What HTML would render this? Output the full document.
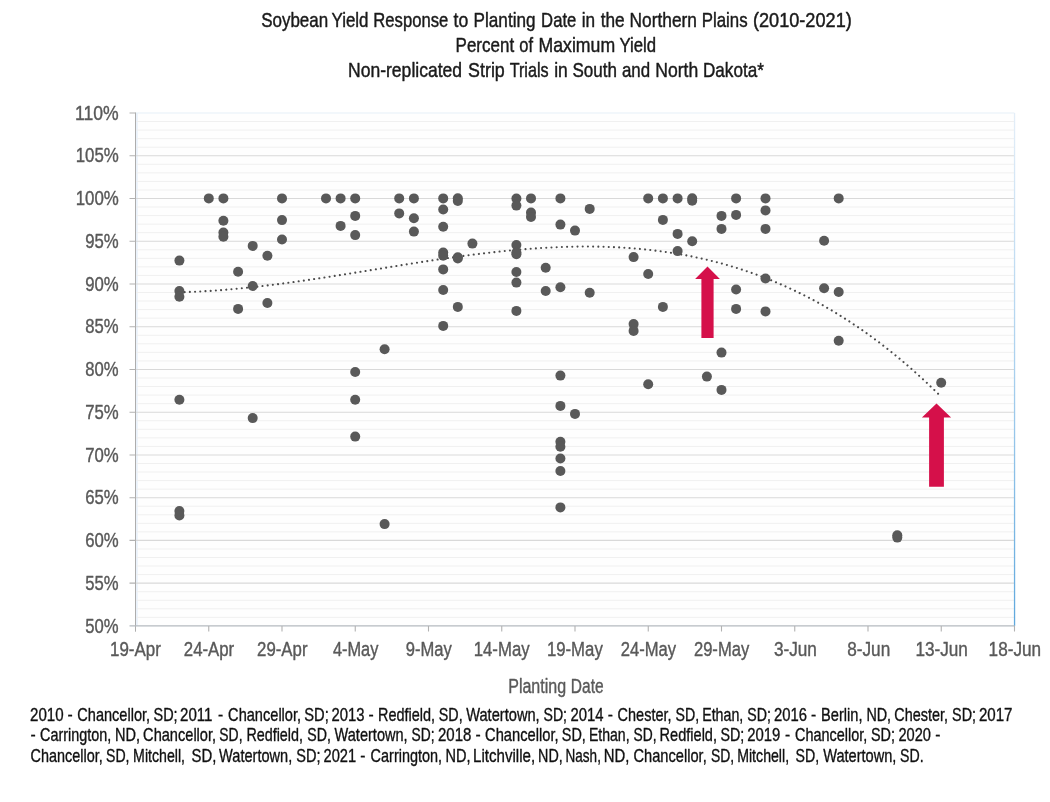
<!DOCTYPE html>
<html lang="en"><head><meta charset="utf-8"><title>Soybean Yield Response to Planting Date</title>
<style>html,body{margin:0;padding:0;background:#fff;}svg{display:block;}text{font-family:"Liberation Sans",Arial,Helvetica,sans-serif;stroke-linejoin:round;}svg{will-change:transform;opacity:0.999;}</style></head><body>
<svg width="1050" height="802" viewBox="0 0 1050 802">
<defs><linearGradient id="rb" x1="0" y1="0" x2="0" y2="1"><stop offset="0" stop-color="#e4eef8"/><stop offset="0.5" stop-color="#a9d0ee"/><stop offset="1" stop-color="#5fa8dd"/></linearGradient></defs>
<rect x="0" y="0" width="1050" height="802" fill="#ffffff"/>
<rect x="135.5" y="113.0" width="879.0" height="512.9" fill="#fefefe"/>
<rect x="136.0" y="113.0" width="1.8" height="512.9" fill="#eaf2fb"/>
<path d="M135.5 617.35H1014.5M135.5 608.80H1014.5M135.5 600.25H1014.5M135.5 591.71H1014.5M135.5 574.61H1014.5M135.5 566.06H1014.5M135.5 557.51H1014.5M135.5 548.96H1014.5M135.5 531.87H1014.5M135.5 523.32H1014.5M135.5 514.77H1014.5M135.5 506.22H1014.5M135.5 489.13H1014.5M135.5 480.58H1014.5M135.5 472.03H1014.5M135.5 463.48H1014.5M135.5 446.38H1014.5M135.5 437.84H1014.5M135.5 429.29H1014.5M135.5 420.74H1014.5M135.5 403.64H1014.5M135.5 395.10H1014.5M135.5 386.55H1014.5M135.5 378.00H1014.5M135.5 360.90H1014.5M135.5 352.35H1014.5M135.5 343.80H1014.5M135.5 335.26H1014.5M135.5 318.16H1014.5M135.5 309.61H1014.5M135.5 301.06H1014.5M135.5 292.51H1014.5M135.5 275.42H1014.5M135.5 266.87H1014.5M135.5 258.32H1014.5M135.5 249.77H1014.5M135.5 232.68H1014.5M135.5 224.13H1014.5M135.5 215.58H1014.5M135.5 207.03H1014.5M135.5 189.94H1014.5M135.5 181.39H1014.5M135.5 172.84H1014.5M135.5 164.29H1014.5M135.5 147.19H1014.5M135.5 138.64H1014.5M135.5 130.10H1014.5M135.5 121.55H1014.5" stroke="#f0f0f0" stroke-width="1" fill="none"/>
<path d="M135.5 583.16H1014.5M135.5 540.42H1014.5M135.5 497.68H1014.5M135.5 454.93H1014.5M135.5 412.19H1014.5M135.5 369.45H1014.5M135.5 326.71H1014.5M135.5 283.97H1014.5M135.5 241.22H1014.5M135.5 198.48H1014.5M135.5 155.74H1014.5" stroke="#d9d9d9" stroke-width="1.1" fill="none"/>
<path d="M135.5 113.0H1014.5" stroke="#e6eff8" stroke-width="1.2" fill="none"/>
<rect x="1013.9" y="113.0" width="1.3" height="512.9" fill="url(#rb)"/>
<path d="M135.5 112.5V631.7" stroke="#adadad" stroke-width="1" fill="none"/>
<path d="M129.5 625.9H1014.5" stroke="#b4babf" stroke-width="1.4" fill="none"/>
<path d="M129.5 583.16H135.5M129.5 540.42H135.5M129.5 497.68H135.5M129.5 454.93H135.5M129.5 412.19H135.5M129.5 369.45H135.5M129.5 326.71H135.5M129.5 283.97H135.5M129.5 241.22H135.5M129.5 198.48H135.5M129.5 155.74H135.5M129.5 113.00H135.5M208.75 625.9V631.4M282.00 625.9V631.4M355.25 625.9V631.4M428.50 625.9V631.4M501.75 625.9V631.4M575.00 625.9V631.4M648.25 625.9V631.4M721.50 625.9V631.4M794.75 625.9V631.4M868.00 625.9V631.4M941.25 625.9V631.4M1014.50 625.9V631.4" stroke="#b2b2b2" stroke-width="1.1" fill="none"/>
<path d="M179.45 292.26 L181.35 292.21 L183.25 292.15 L185.15 292.09 L187.06 292.03 L188.96 291.96 L190.86 291.88 L192.76 291.81 L194.66 291.72 L196.56 291.63 L198.46 291.54 L200.36 291.44 L202.27 291.34 L204.17 291.23 L206.07 291.12 L207.97 291.00 L209.87 290.88 L211.77 290.76 L213.67 290.63 L215.57 290.50 L217.48 290.36 L219.38 290.22 L221.28 290.07 L223.18 289.92 L225.08 289.77 L226.98 289.61 L228.88 289.45 L230.78 289.28 L232.69 289.12 L234.59 288.94 L236.49 288.77 L238.39 288.59 L240.29 288.40 L242.19 288.22 L244.09 288.03 L245.99 287.83 L247.90 287.64 L249.80 287.44 L251.70 287.23 L253.60 287.03 L255.50 286.82 L257.40 286.60 L259.30 286.39 L261.20 286.17 L263.11 285.94 L265.01 285.72 L266.91 285.49 L268.81 285.26 L270.71 285.03 L272.61 284.79 L274.51 284.55 L276.41 284.31 L278.32 284.07 L280.22 283.82 L282.12 283.57 L284.02 283.32 L285.92 283.07 L287.82 282.81 L289.72 282.55 L291.62 282.29 L293.53 282.03 L295.43 281.76 L297.33 281.50 L299.23 281.23 L301.13 280.96 L303.03 280.68 L304.93 280.41 L306.83 280.13 L308.74 279.85 L310.64 279.57 L312.54 279.29 L314.44 279.01 L316.34 278.72 L318.24 278.44 L320.14 278.15 L322.04 277.86 L323.95 277.57 L325.85 277.28 L327.75 276.98 L329.65 276.69 L331.55 276.39 L333.45 276.10 L335.35 275.80 L337.25 275.50 L339.16 275.20 L341.06 274.90 L342.96 274.60 L344.86 274.30 L346.76 273.99 L348.66 273.69 L350.56 273.38 L352.46 273.08 L354.37 272.77 L356.27 272.47 L358.17 272.16 L360.07 271.85 L361.97 271.54 L363.87 271.24 L365.77 270.93 L367.67 270.62 L369.58 270.31 L371.48 270.00 L373.38 269.69 L375.28 269.38 L377.18 269.08 L379.08 268.77 L380.98 268.46 L382.88 268.15 L384.79 267.84 L386.69 267.53 L388.59 267.22 L390.49 266.92 L392.39 266.61 L394.29 266.30 L396.19 266.00 L398.09 265.69 L400.00 265.39 L401.90 265.08 L403.80 264.78 L405.70 264.48 L407.60 264.18 L409.50 263.88 L411.40 263.58 L413.30 263.28 L415.21 262.98 L417.11 262.68 L419.01 262.39 L420.91 262.09 L422.81 261.80 L424.71 261.50 L426.61 261.21 L428.51 260.92 L430.42 260.64 L432.32 260.35 L434.22 260.06 L436.12 259.78 L438.02 259.50 L439.92 259.22 L441.82 258.94 L443.72 258.66 L445.63 258.39 L447.53 258.11 L449.43 257.84 L451.33 257.57 L453.23 257.31 L455.13 257.04 L457.03 256.78 L458.93 256.52 L460.84 256.26 L462.74 256.00 L464.64 255.75 L466.54 255.50 L468.44 255.25 L470.34 255.00 L472.24 254.75 L474.14 254.51 L476.05 254.27 L477.95 254.04 L479.85 253.80 L481.75 253.57 L483.65 253.34 L485.55 253.12 L487.45 252.89 L489.35 252.68 L491.26 252.46 L493.16 252.24 L495.06 252.03 L496.96 251.83 L498.86 251.62 L500.76 251.42 L502.66 251.22 L504.56 251.03 L506.47 250.84 L508.37 250.65 L510.27 250.47 L512.17 250.29 L514.07 250.11 L515.97 249.94 L517.87 249.77 L519.77 249.60 L521.68 249.44 L523.58 249.28 L525.48 249.13 L527.38 248.98 L529.28 248.83 L531.18 248.69 L533.08 248.55 L534.98 248.42 L536.89 248.29 L538.79 248.16 L540.69 248.04 L542.59 247.92 L544.49 247.81 L546.39 247.70 L548.29 247.60 L550.19 247.50 L552.10 247.41 L554.00 247.32 L555.90 247.23 L557.80 247.15 L559.70 247.08 L561.60 247.01 L563.50 246.94 L565.40 246.88 L567.31 246.82 L569.21 246.77 L571.11 246.73 L573.01 246.69 L574.91 246.65 L576.81 246.62 L578.71 246.60 L580.61 246.58 L582.52 246.56 L584.42 246.55 L586.32 246.55 L588.22 246.55 L590.12 246.56 L592.02 246.57 L593.92 246.59 L595.82 246.62 L597.73 246.65 L599.63 246.69 L601.53 246.73 L603.43 246.78 L605.33 246.83 L607.23 246.89 L609.13 246.96 L611.03 247.03 L612.94 247.11 L614.84 247.19 L616.74 247.29 L618.64 247.38 L620.54 247.49 L622.44 247.60 L624.34 247.72 L626.24 247.84 L628.15 247.97 L630.05 248.11 L631.95 248.25 L633.85 248.40 L635.75 248.56 L637.65 248.72 L639.55 248.89 L641.45 249.07 L643.36 249.25 L645.26 249.44 L647.16 249.64 L649.06 249.85 L650.96 250.06 L652.86 250.28 L654.76 250.51 L656.66 250.74 L658.57 250.99 L660.47 251.24 L662.37 251.49 L664.27 251.76 L666.17 252.03 L668.07 252.31 L669.97 252.60 L671.87 252.89 L673.78 253.20 L675.68 253.51 L677.58 253.82 L679.48 254.15 L681.38 254.49 L683.28 254.83 L685.18 255.18 L687.08 255.54 L688.99 255.91 L690.89 256.28 L692.79 256.66 L694.69 257.06 L696.59 257.46 L698.49 257.86 L700.39 258.28 L702.29 258.71 L704.20 259.14 L706.10 259.58 L708.00 260.04 L709.90 260.50 L711.80 260.96 L713.70 261.44 L715.60 261.93 L717.50 262.42 L719.41 262.93 L721.31 263.44 L723.21 263.96 L725.11 264.50 L727.01 265.04 L728.91 265.59 L730.81 266.15 L732.71 266.72 L734.62 267.29 L736.52 267.88 L738.42 268.48 L740.32 269.08 L742.22 269.70 L744.12 270.33 L746.02 270.96 L747.92 271.61 L749.83 272.26 L751.73 272.92 L753.63 273.60 L755.53 274.28 L757.43 274.98 L759.33 275.68 L761.23 276.40 L763.13 277.12 L765.04 277.86 L766.94 278.60 L768.84 279.36 L770.74 280.12 L772.64 280.90 L774.54 281.68 L776.44 282.48 L778.34 283.29 L780.25 284.10 L782.15 284.93 L784.05 285.77 L785.95 286.62 L787.85 287.48 L789.75 288.35 L791.65 289.23 L793.55 290.13 L795.46 291.03 L797.36 291.95 L799.26 292.87 L801.16 293.81 L803.06 294.76 L804.96 295.72 L806.86 296.69 L808.76 297.67 L810.67 298.66 L812.57 299.67 L814.47 300.68 L816.37 301.71 L818.27 302.75 L820.17 303.80 L822.07 304.86 L823.97 305.94 L825.88 307.03 L827.78 308.12 L829.68 309.23 L831.58 310.35 L833.48 311.49 L835.38 312.63 L837.28 313.79 L839.18 314.96 L841.09 316.14 L842.99 317.34 L844.89 318.54 L846.79 319.76 L848.69 320.99 L850.59 322.23 L852.49 323.49 L854.39 324.76 L856.30 326.04 L858.20 327.33 L860.10 328.64 L862.00 329.96 L863.90 331.29 L865.80 332.63 L867.70 333.99 L869.60 335.36 L871.51 336.74 L873.41 338.14 L875.31 339.55 L877.21 340.97 L879.11 342.41 L881.01 343.85 L882.91 345.32 L884.81 346.79 L886.72 348.28 L888.62 349.78 L890.52 351.29 L892.42 352.82 L894.32 354.37 L896.22 355.92 L898.12 357.49 L900.02 359.07 L901.93 360.67 L903.83 362.28 L905.73 363.91 L907.63 365.54 L909.53 367.20 L911.43 368.86 L913.33 370.54 L915.23 372.24 L917.14 373.95 L919.04 375.67 L920.94 377.40 L922.84 379.16 L924.74 380.92 L926.64 382.70 L928.54 384.50 L930.44 386.30 L932.35 388.13 L934.25 389.97 L936.15 391.82 L938.05 393.69" stroke="#4a4a4a" stroke-width="2.1" stroke-linecap="round" stroke-dasharray="0.01 5.1980" fill="none"/>
<g fill="#595959">
<circle cx="179.4" cy="260.6" r="5"/>
<circle cx="179.4" cy="291.0" r="5"/>
<circle cx="179.4" cy="296.7" r="5"/>
<circle cx="179.4" cy="399.7" r="5"/>
<circle cx="179.4" cy="511.1" r="5"/>
<circle cx="179.4" cy="515.4" r="5"/>
<circle cx="208.8" cy="198.4" r="5"/>
<circle cx="223.4" cy="198.4" r="5"/>
<circle cx="223.4" cy="220.8" r="5"/>
<circle cx="223.4" cy="232.6" r="5"/>
<circle cx="223.4" cy="236.7" r="5"/>
<circle cx="238.1" cy="271.8" r="5"/>
<circle cx="238.1" cy="308.9" r="5"/>
<circle cx="252.7" cy="245.9" r="5"/>
<circle cx="252.7" cy="286.0" r="5"/>
<circle cx="252.7" cy="418.1" r="5"/>
<circle cx="267.4" cy="255.7" r="5"/>
<circle cx="267.4" cy="303.0" r="5"/>
<circle cx="282.0" cy="198.4" r="5"/>
<circle cx="282.0" cy="220.1" r="5"/>
<circle cx="282.0" cy="239.5" r="5"/>
<circle cx="326.0" cy="198.4" r="5"/>
<circle cx="340.6" cy="198.4" r="5"/>
<circle cx="340.6" cy="225.9" r="5"/>
<circle cx="355.2" cy="198.4" r="5"/>
<circle cx="355.2" cy="215.9" r="5"/>
<circle cx="355.2" cy="235.1" r="5"/>
<circle cx="355.2" cy="372.0" r="5"/>
<circle cx="355.2" cy="399.7" r="5"/>
<circle cx="355.2" cy="436.6" r="5"/>
<circle cx="384.6" cy="349.3" r="5"/>
<circle cx="384.6" cy="524.1" r="5"/>
<circle cx="399.2" cy="198.4" r="5"/>
<circle cx="399.2" cy="213.4" r="5"/>
<circle cx="413.9" cy="198.4" r="5"/>
<circle cx="413.9" cy="218.2" r="5"/>
<circle cx="413.9" cy="231.6" r="5"/>
<circle cx="443.2" cy="198.4" r="5"/>
<circle cx="443.2" cy="209.5" r="5"/>
<circle cx="443.2" cy="226.8" r="5"/>
<circle cx="443.2" cy="252.5" r="5"/>
<circle cx="443.2" cy="255.7" r="5"/>
<circle cx="443.2" cy="269.4" r="5"/>
<circle cx="443.2" cy="290.0" r="5"/>
<circle cx="443.2" cy="325.9" r="5"/>
<circle cx="457.8" cy="198.2" r="5"/>
<circle cx="457.8" cy="200.9" r="5"/>
<circle cx="457.8" cy="257.2" r="5"/>
<circle cx="457.8" cy="258.5" r="5"/>
<circle cx="457.8" cy="306.9" r="5"/>
<circle cx="472.4" cy="243.6" r="5"/>
<circle cx="516.4" cy="198.6" r="5"/>
<circle cx="516.4" cy="205.6" r="5"/>
<circle cx="516.4" cy="245.0" r="5"/>
<circle cx="516.4" cy="252.5" r="5"/>
<circle cx="516.4" cy="254.2" r="5"/>
<circle cx="516.4" cy="272.0" r="5"/>
<circle cx="516.4" cy="282.6" r="5"/>
<circle cx="516.4" cy="310.9" r="5"/>
<circle cx="531.0" cy="198.4" r="5"/>
<circle cx="531.0" cy="212.5" r="5"/>
<circle cx="531.0" cy="216.9" r="5"/>
<circle cx="545.7" cy="267.8" r="5"/>
<circle cx="545.7" cy="291.0" r="5"/>
<circle cx="560.4" cy="198.4" r="5"/>
<circle cx="560.4" cy="224.6" r="5"/>
<circle cx="560.4" cy="287.2" r="5"/>
<circle cx="560.4" cy="375.6" r="5"/>
<circle cx="560.4" cy="405.9" r="5"/>
<circle cx="560.4" cy="441.8" r="5"/>
<circle cx="560.4" cy="446.8" r="5"/>
<circle cx="560.4" cy="458.5" r="5"/>
<circle cx="560.4" cy="471.0" r="5"/>
<circle cx="560.4" cy="507.4" r="5"/>
<circle cx="575.0" cy="230.6" r="5"/>
<circle cx="575.0" cy="413.9" r="5"/>
<circle cx="589.7" cy="208.9" r="5"/>
<circle cx="589.7" cy="292.7" r="5"/>
<circle cx="633.6" cy="257.1" r="5"/>
<circle cx="633.6" cy="324.1" r="5"/>
<circle cx="633.6" cy="330.9" r="5"/>
<circle cx="648.2" cy="198.4" r="5"/>
<circle cx="648.2" cy="274.0" r="5"/>
<circle cx="648.2" cy="384.2" r="5"/>
<circle cx="662.9" cy="198.4" r="5"/>
<circle cx="662.9" cy="219.9" r="5"/>
<circle cx="662.9" cy="306.9" r="5"/>
<circle cx="677.6" cy="198.4" r="5"/>
<circle cx="677.6" cy="233.9" r="5"/>
<circle cx="677.6" cy="251.1" r="5"/>
<circle cx="692.2" cy="198.2" r="5"/>
<circle cx="692.2" cy="200.8" r="5"/>
<circle cx="692.2" cy="241.3" r="5"/>
<circle cx="706.9" cy="376.6" r="5"/>
<circle cx="721.5" cy="215.9" r="5"/>
<circle cx="721.5" cy="228.9" r="5"/>
<circle cx="721.5" cy="352.6" r="5"/>
<circle cx="721.5" cy="389.9" r="5"/>
<circle cx="736.1" cy="198.4" r="5"/>
<circle cx="736.1" cy="214.9" r="5"/>
<circle cx="736.1" cy="289.5" r="5"/>
<circle cx="736.1" cy="308.9" r="5"/>
<circle cx="765.5" cy="198.4" r="5"/>
<circle cx="765.5" cy="210.4" r="5"/>
<circle cx="765.5" cy="228.9" r="5"/>
<circle cx="765.5" cy="278.5" r="5"/>
<circle cx="765.5" cy="311.4" r="5"/>
<circle cx="824.1" cy="240.8" r="5"/>
<circle cx="824.1" cy="288.2" r="5"/>
<circle cx="838.7" cy="198.4" r="5"/>
<circle cx="838.7" cy="292.0" r="5"/>
<circle cx="838.7" cy="340.8" r="5"/>
<circle cx="897.3" cy="535.2" r="5"/>
<circle cx="897.3" cy="537.6" r="5"/>
<circle cx="941.2" cy="382.8" r="5"/>
</g>
<path d="M707.5 266.5L719.9 279.0L713.6 279.0L713.6 338.1L701.4 338.1L701.4 279.0L695.1 279.0Z" fill="#d5104a"/>
<path d="M936.5 403.5L951.1 417.6L943.9 417.6L943.9 486.8L929.1 486.8L929.1 417.6L921.9 417.6Z" fill="#d5104a"/>
<g>
<text x="261.2" y="26.5" font-size="20.7" fill="#1a1a1a" stroke="#1a1a1a" stroke-width="0.45" textLength="67.0" lengthAdjust="spacingAndGlyphs">Soybean</text>
<text x="331.5" y="26.5" font-size="20.7" fill="#1a1a1a" stroke="#1a1a1a" stroke-width="0.45" textLength="37.0" lengthAdjust="spacingAndGlyphs">Yield</text>
<text x="373.3" y="26.5" font-size="20.7" fill="#1a1a1a" stroke="#1a1a1a" stroke-width="0.45" textLength="74.9" lengthAdjust="spacingAndGlyphs">Response</text>
<text x="453.6" y="26.5" font-size="20.7" fill="#1a1a1a" stroke="#1a1a1a" stroke-width="0.45" textLength="14.7" lengthAdjust="spacingAndGlyphs">to</text>
<text x="473.6" y="26.5" font-size="20.7" fill="#1a1a1a" stroke="#1a1a1a" stroke-width="0.45" textLength="61.9" lengthAdjust="spacingAndGlyphs">Planting</text>
<text x="541.1" y="26.5" font-size="20.7" fill="#1a1a1a" stroke="#1a1a1a" stroke-width="0.45" textLength="35.2" lengthAdjust="spacingAndGlyphs">Date</text>
<text x="581.8" y="26.5" font-size="20.7" fill="#1a1a1a" stroke="#1a1a1a" stroke-width="0.45" textLength="13.4" lengthAdjust="spacingAndGlyphs">in</text>
<text x="600.7" y="26.5" font-size="20.7" fill="#1a1a1a" stroke="#1a1a1a" stroke-width="0.45" textLength="24.0" lengthAdjust="spacingAndGlyphs">the</text>
<text x="629.6" y="26.5" font-size="20.7" fill="#1a1a1a" stroke="#1a1a1a" stroke-width="0.45" textLength="67.4" lengthAdjust="spacingAndGlyphs">Northern</text>
<text x="701.7" y="26.5" font-size="20.7" fill="#1a1a1a" stroke="#1a1a1a" stroke-width="0.45" textLength="45.9" lengthAdjust="spacingAndGlyphs">Plains</text>
<text x="752.9" y="26.5" font-size="20.7" fill="#1a1a1a" stroke="#1a1a1a" stroke-width="0.45" textLength="98.9" lengthAdjust="spacingAndGlyphs">(2010-2021)</text>
</g>
<g>
<text x="455.6" y="51.7" font-size="20.7" fill="#1a1a1a" stroke="#1a1a1a" stroke-width="0.45" textLength="58.5" lengthAdjust="spacingAndGlyphs">Percent</text>
<text x="519.3" y="51.7" font-size="20.7" fill="#1a1a1a" stroke="#1a1a1a" stroke-width="0.45" textLength="13.7" lengthAdjust="spacingAndGlyphs">of</text>
<text x="538.6" y="51.7" font-size="20.7" fill="#1a1a1a" stroke="#1a1a1a" stroke-width="0.45" textLength="76.5" lengthAdjust="spacingAndGlyphs">Maximum</text>
<text x="619.5" y="51.7" font-size="20.7" fill="#1a1a1a" stroke="#1a1a1a" stroke-width="0.45" textLength="36.6" lengthAdjust="spacingAndGlyphs">Yield</text>
</g>
<g>
<text x="348.0" y="76.8" font-size="20.7" fill="#1a1a1a" stroke="#1a1a1a" stroke-width="0.45" textLength="114.1" lengthAdjust="spacingAndGlyphs">Non-replicated</text>
<text x="468.1" y="76.8" font-size="20.7" fill="#1a1a1a" stroke="#1a1a1a" stroke-width="0.45" textLength="36.7" lengthAdjust="spacingAndGlyphs">Strip</text>
<text x="509.7" y="76.8" font-size="20.7" fill="#1a1a1a" stroke="#1a1a1a" stroke-width="0.45" textLength="38.9" lengthAdjust="spacingAndGlyphs">Trials</text>
<text x="554.2" y="76.8" font-size="20.7" fill="#1a1a1a" stroke="#1a1a1a" stroke-width="0.45" textLength="13.6" lengthAdjust="spacingAndGlyphs">in</text>
<text x="572.5" y="76.8" font-size="20.7" fill="#1a1a1a" stroke="#1a1a1a" stroke-width="0.45" textLength="44.5" lengthAdjust="spacingAndGlyphs">South</text>
<text x="621.9" y="76.8" font-size="20.7" fill="#1a1a1a" stroke="#1a1a1a" stroke-width="0.45" textLength="28.2" lengthAdjust="spacingAndGlyphs">and</text>
<text x="655.2" y="76.8" font-size="20.7" fill="#1a1a1a" stroke="#1a1a1a" stroke-width="0.45" textLength="43.0" lengthAdjust="spacingAndGlyphs">North</text>
<text x="703.0" y="76.8" font-size="20.7" fill="#1a1a1a" stroke="#1a1a1a" stroke-width="0.45" textLength="60.8" lengthAdjust="spacingAndGlyphs">Dakota*</text>
</g>
<g>
<text x="85.3" y="632.5" font-size="20.0" fill="#595959" stroke="#595959" stroke-width="0.40" textLength="33.3" lengthAdjust="spacingAndGlyphs">50%</text>
<text x="85.3" y="589.8" font-size="20.0" fill="#595959" stroke="#595959" stroke-width="0.40" textLength="33.3" lengthAdjust="spacingAndGlyphs">55%</text>
<text x="85.2" y="547.0" font-size="20.0" fill="#595959" stroke="#595959" stroke-width="0.40" textLength="33.5" lengthAdjust="spacingAndGlyphs">60%</text>
<text x="85.2" y="504.3" font-size="20.0" fill="#595959" stroke="#595959" stroke-width="0.40" textLength="33.5" lengthAdjust="spacingAndGlyphs">65%</text>
<text x="85.2" y="461.5" font-size="20.0" fill="#595959" stroke="#595959" stroke-width="0.40" textLength="33.5" lengthAdjust="spacingAndGlyphs">70%</text>
<text x="85.2" y="418.8" font-size="20.0" fill="#595959" stroke="#595959" stroke-width="0.40" textLength="33.5" lengthAdjust="spacingAndGlyphs">75%</text>
<text x="85.3" y="376.1" font-size="20.0" fill="#595959" stroke="#595959" stroke-width="0.40" textLength="33.3" lengthAdjust="spacingAndGlyphs">80%</text>
<text x="85.3" y="333.3" font-size="20.0" fill="#595959" stroke="#595959" stroke-width="0.40" textLength="33.3" lengthAdjust="spacingAndGlyphs">85%</text>
<text x="85.2" y="290.6" font-size="20.0" fill="#595959" stroke="#595959" stroke-width="0.40" textLength="33.5" lengthAdjust="spacingAndGlyphs">90%</text>
<text x="85.2" y="247.8" font-size="20.0" fill="#595959" stroke="#595959" stroke-width="0.40" textLength="33.5" lengthAdjust="spacingAndGlyphs">95%</text>
<text x="75.7" y="205.1" font-size="20.0" fill="#595959" stroke="#595959" stroke-width="0.40" textLength="43.1" lengthAdjust="spacingAndGlyphs">100%</text>
<text x="75.7" y="162.3" font-size="20.0" fill="#595959" stroke="#595959" stroke-width="0.40" textLength="43.1" lengthAdjust="spacingAndGlyphs">105%</text>
<text x="75.1" y="119.6" font-size="20.0" fill="#595959" stroke="#595959" stroke-width="0.40" textLength="43.6" lengthAdjust="spacingAndGlyphs">110%</text>
</g>
<g>
<text x="110.0" y="656.0" font-size="20.0" fill="#595959" stroke="#595959" stroke-width="0.40" textLength="50.9" lengthAdjust="spacingAndGlyphs">19-Apr</text>
<text x="183.8" y="656.0" font-size="20.0" fill="#595959" stroke="#595959" stroke-width="0.40" textLength="50.4" lengthAdjust="spacingAndGlyphs">24-Apr</text>
<text x="257.1" y="656.0" font-size="20.0" fill="#595959" stroke="#595959" stroke-width="0.40" textLength="50.4" lengthAdjust="spacingAndGlyphs">29-Apr</text>
<text x="332.9" y="656.0" font-size="20.0" fill="#595959" stroke="#595959" stroke-width="0.40" textLength="45.5" lengthAdjust="spacingAndGlyphs">4-May</text>
<text x="405.7" y="656.0" font-size="20.0" fill="#595959" stroke="#595959" stroke-width="0.40" textLength="46.0" lengthAdjust="spacingAndGlyphs">9-May</text>
<text x="473.7" y="656.0" font-size="20.0" fill="#595959" stroke="#595959" stroke-width="0.40" textLength="55.9" lengthAdjust="spacingAndGlyphs">14-May</text>
<text x="546.9" y="656.0" font-size="20.0" fill="#595959" stroke="#595959" stroke-width="0.40" textLength="55.9" lengthAdjust="spacingAndGlyphs">19-May</text>
<text x="620.7" y="656.0" font-size="20.0" fill="#595959" stroke="#595959" stroke-width="0.40" textLength="55.4" lengthAdjust="spacingAndGlyphs">24-May</text>
<text x="693.9" y="656.0" font-size="20.0" fill="#595959" stroke="#595959" stroke-width="0.40" textLength="55.4" lengthAdjust="spacingAndGlyphs">29-May</text>
<text x="773.9" y="656.0" font-size="20.0" fill="#595959" stroke="#595959" stroke-width="0.40" textLength="43.0" lengthAdjust="spacingAndGlyphs">3-Jun</text>
<text x="847.2" y="656.0" font-size="20.0" fill="#595959" stroke="#595959" stroke-width="0.40" textLength="43.0" lengthAdjust="spacingAndGlyphs">8-Jun</text>
<text x="915.4" y="656.0" font-size="20.0" fill="#595959" stroke="#595959" stroke-width="0.40" textLength="52.5" lengthAdjust="spacingAndGlyphs">13-Jun</text>
<text x="988.6" y="656.0" font-size="20.0" fill="#595959" stroke="#595959" stroke-width="0.40" textLength="52.5" lengthAdjust="spacingAndGlyphs">18-Jun</text>
</g>
<g>
<text x="508.2" y="693.0" font-size="20.0" fill="#595959" stroke="#595959" stroke-width="0.40" textLength="57.9" lengthAdjust="spacingAndGlyphs">Planting</text>
<text x="570.8" y="693.0" font-size="20.0" fill="#595959" stroke="#595959" stroke-width="0.40" textLength="32.8" lengthAdjust="spacingAndGlyphs">Date</text>
</g>
<g>
<text x="30.0" y="720.8" font-size="17.9" fill="#111111" stroke="#111111" stroke-width="0.35" textLength="33.6" lengthAdjust="spacingAndGlyphs">2010</text>
<text x="67.4" y="720.8" font-size="17.9" fill="#111111" stroke="#111111" stroke-width="0.35" textLength="5.2" lengthAdjust="spacingAndGlyphs">-</text>
<text x="77.3" y="720.8" font-size="17.9" fill="#111111" stroke="#111111" stroke-width="0.35" textLength="72.8" lengthAdjust="spacingAndGlyphs">Chancellor,</text>
<text x="153.5" y="720.8" font-size="17.9" fill="#111111" stroke="#111111" stroke-width="0.35" textLength="24.1" lengthAdjust="spacingAndGlyphs">SD;</text>
<text x="180.0" y="720.8" font-size="17.9" fill="#111111" stroke="#111111" stroke-width="0.35" textLength="32.4" lengthAdjust="spacingAndGlyphs">2011</text>
<text x="218.1" y="720.8" font-size="17.9" fill="#111111" stroke="#111111" stroke-width="0.35" textLength="5.2" lengthAdjust="spacingAndGlyphs">-</text>
<text x="228.1" y="720.8" font-size="17.9" fill="#111111" stroke="#111111" stroke-width="0.35" textLength="73.0" lengthAdjust="spacingAndGlyphs">Chancellor,</text>
<text x="304.3" y="720.8" font-size="17.9" fill="#111111" stroke="#111111" stroke-width="0.35" textLength="24.5" lengthAdjust="spacingAndGlyphs">SD;</text>
<text x="331.5" y="720.8" font-size="17.9" fill="#111111" stroke="#111111" stroke-width="0.35" textLength="33.0" lengthAdjust="spacingAndGlyphs">2013</text>
<text x="368.6" y="720.8" font-size="17.9" fill="#111111" stroke="#111111" stroke-width="0.35" textLength="5.2" lengthAdjust="spacingAndGlyphs">-</text>
<text x="378.0" y="720.8" font-size="17.9" fill="#111111" stroke="#111111" stroke-width="0.35" textLength="57.0" lengthAdjust="spacingAndGlyphs">Redfield,</text>
<text x="438.8" y="720.8" font-size="17.9" fill="#111111" stroke="#111111" stroke-width="0.35" textLength="23.8" lengthAdjust="spacingAndGlyphs">SD,</text>
<text x="466.2" y="720.8" font-size="17.9" fill="#111111" stroke="#111111" stroke-width="0.35" textLength="73.5" lengthAdjust="spacingAndGlyphs">Watertown,</text>
<text x="543.5" y="720.8" font-size="17.9" fill="#111111" stroke="#111111" stroke-width="0.35" textLength="23.5" lengthAdjust="spacingAndGlyphs">SD;</text>
<text x="570.6" y="720.8" font-size="17.9" fill="#111111" stroke="#111111" stroke-width="0.35" textLength="33.0" lengthAdjust="spacingAndGlyphs">2014</text>
<text x="607.7" y="720.8" font-size="17.9" fill="#111111" stroke="#111111" stroke-width="0.35" textLength="5.2" lengthAdjust="spacingAndGlyphs">-</text>
<text x="617.6" y="720.8" font-size="17.9" fill="#111111" stroke="#111111" stroke-width="0.35" textLength="53.9" lengthAdjust="spacingAndGlyphs">Chester,</text>
<text x="675.6" y="720.8" font-size="17.9" fill="#111111" stroke="#111111" stroke-width="0.35" textLength="23.6" lengthAdjust="spacingAndGlyphs">SD,</text>
<text x="702.2" y="720.8" font-size="17.9" fill="#111111" stroke="#111111" stroke-width="0.35" textLength="41.1" lengthAdjust="spacingAndGlyphs">Ethan,</text>
<text x="747.3" y="720.8" font-size="17.9" fill="#111111" stroke="#111111" stroke-width="0.35" textLength="23.6" lengthAdjust="spacingAndGlyphs">SD;</text>
<text x="774.0" y="720.8" font-size="17.9" fill="#111111" stroke="#111111" stroke-width="0.35" textLength="33.0" lengthAdjust="spacingAndGlyphs">2016</text>
<text x="811.1" y="720.8" font-size="17.9" fill="#111111" stroke="#111111" stroke-width="0.35" textLength="5.2" lengthAdjust="spacingAndGlyphs">-</text>
<text x="821.0" y="720.8" font-size="17.9" fill="#111111" stroke="#111111" stroke-width="0.35" textLength="41.5" lengthAdjust="spacingAndGlyphs">Berlin,</text>
<text x="866.4" y="720.8" font-size="17.9" fill="#111111" stroke="#111111" stroke-width="0.35" textLength="24.7" lengthAdjust="spacingAndGlyphs">ND,</text>
<text x="894.3" y="720.8" font-size="17.9" fill="#111111" stroke="#111111" stroke-width="0.35" textLength="53.6" lengthAdjust="spacingAndGlyphs">Chester,</text>
<text x="952.1" y="720.8" font-size="17.9" fill="#111111" stroke="#111111" stroke-width="0.35" textLength="23.9" lengthAdjust="spacingAndGlyphs">SD;</text>
<text x="978.9" y="720.8" font-size="17.9" fill="#111111" stroke="#111111" stroke-width="0.35" textLength="33.6" lengthAdjust="spacingAndGlyphs">2017</text>
</g>
<g>
<text x="30.6" y="741.4" font-size="17.9" fill="#111111" stroke="#111111" stroke-width="0.35" textLength="5.2" lengthAdjust="spacingAndGlyphs">-</text>
<text x="40.1" y="741.4" font-size="17.9" fill="#111111" stroke="#111111" stroke-width="0.35" textLength="71.2" lengthAdjust="spacingAndGlyphs">Carrington,</text>
<text x="115.1" y="741.4" font-size="17.9" fill="#111111" stroke="#111111" stroke-width="0.35" textLength="25.0" lengthAdjust="spacingAndGlyphs">ND,</text>
<text x="143.1" y="741.4" font-size="17.9" fill="#111111" stroke="#111111" stroke-width="0.35" textLength="73.0" lengthAdjust="spacingAndGlyphs">Chancellor,</text>
<text x="219.3" y="741.4" font-size="17.9" fill="#111111" stroke="#111111" stroke-width="0.35" textLength="23.2" lengthAdjust="spacingAndGlyphs">SD,</text>
<text x="246.4" y="741.4" font-size="17.9" fill="#111111" stroke="#111111" stroke-width="0.35" textLength="56.6" lengthAdjust="spacingAndGlyphs">Redfield,</text>
<text x="307.3" y="741.4" font-size="17.9" fill="#111111" stroke="#111111" stroke-width="0.35" textLength="23.6" lengthAdjust="spacingAndGlyphs">SD,</text>
<text x="334.6" y="741.4" font-size="17.9" fill="#111111" stroke="#111111" stroke-width="0.35" textLength="73.0" lengthAdjust="spacingAndGlyphs">Watertown,</text>
<text x="411.5" y="741.4" font-size="17.9" fill="#111111" stroke="#111111" stroke-width="0.35" textLength="23.0" lengthAdjust="spacingAndGlyphs">SD;</text>
<text x="438.0" y="741.4" font-size="17.9" fill="#111111" stroke="#111111" stroke-width="0.35" textLength="33.4" lengthAdjust="spacingAndGlyphs">2018</text>
<text x="475.6" y="741.4" font-size="17.9" fill="#111111" stroke="#111111" stroke-width="0.35" textLength="5.2" lengthAdjust="spacingAndGlyphs">-</text>
<text x="485.1" y="741.4" font-size="17.9" fill="#111111" stroke="#111111" stroke-width="0.35" textLength="73.5" lengthAdjust="spacingAndGlyphs">Chancellor,</text>
<text x="561.8" y="741.4" font-size="17.9" fill="#111111" stroke="#111111" stroke-width="0.35" textLength="24.0" lengthAdjust="spacingAndGlyphs">SD,</text>
<text x="588.9" y="741.4" font-size="17.9" fill="#111111" stroke="#111111" stroke-width="0.35" textLength="40.7" lengthAdjust="spacingAndGlyphs">Ethan,</text>
<text x="633.5" y="741.4" font-size="17.9" fill="#111111" stroke="#111111" stroke-width="0.35" textLength="23.0" lengthAdjust="spacingAndGlyphs">SD,</text>
<text x="659.6" y="741.4" font-size="17.9" fill="#111111" stroke="#111111" stroke-width="0.35" textLength="57.4" lengthAdjust="spacingAndGlyphs">Redfield,</text>
<text x="720.5" y="741.4" font-size="17.9" fill="#111111" stroke="#111111" stroke-width="0.35" textLength="23.8" lengthAdjust="spacingAndGlyphs">SD;</text>
<text x="747.3" y="741.4" font-size="17.9" fill="#111111" stroke="#111111" stroke-width="0.35" textLength="33.1" lengthAdjust="spacingAndGlyphs">2019</text>
<text x="784.9" y="741.4" font-size="17.9" fill="#111111" stroke="#111111" stroke-width="0.35" textLength="5.2" lengthAdjust="spacingAndGlyphs">-</text>
<text x="795.1" y="741.4" font-size="17.9" fill="#111111" stroke="#111111" stroke-width="0.35" textLength="72.1" lengthAdjust="spacingAndGlyphs">Chancellor,</text>
<text x="871.0" y="741.4" font-size="17.9" fill="#111111" stroke="#111111" stroke-width="0.35" textLength="24.0" lengthAdjust="spacingAndGlyphs">SD;</text>
<text x="898.5" y="741.4" font-size="17.9" fill="#111111" stroke="#111111" stroke-width="0.35" textLength="32.5" lengthAdjust="spacingAndGlyphs">2020</text>
<text x="935.2" y="741.4" font-size="17.9" fill="#111111" stroke="#111111" stroke-width="0.35" textLength="5.2" lengthAdjust="spacingAndGlyphs">-</text>
</g>
<g>
<text x="30.5" y="761.6" font-size="17.9" fill="#111111" stroke="#111111" stroke-width="0.35" textLength="72.2" lengthAdjust="spacingAndGlyphs">Chancellor,</text>
<text x="106.0" y="761.6" font-size="17.9" fill="#111111" stroke="#111111" stroke-width="0.35" textLength="23.5" lengthAdjust="spacingAndGlyphs">SD,</text>
<text x="133.1" y="761.6" font-size="17.9" fill="#111111" stroke="#111111" stroke-width="0.35" textLength="51.9" lengthAdjust="spacingAndGlyphs">Mitchell,</text>
<text x="191.5" y="761.6" font-size="17.9" fill="#111111" stroke="#111111" stroke-width="0.35" textLength="24.8" lengthAdjust="spacingAndGlyphs">SD,</text>
<text x="219.1" y="761.6" font-size="17.9" fill="#111111" stroke="#111111" stroke-width="0.35" textLength="73.1" lengthAdjust="spacingAndGlyphs">Watertown,</text>
<text x="296.3" y="761.6" font-size="17.9" fill="#111111" stroke="#111111" stroke-width="0.35" textLength="24.2" lengthAdjust="spacingAndGlyphs">SD;</text>
<text x="323.5" y="761.6" font-size="17.9" fill="#111111" stroke="#111111" stroke-width="0.35" textLength="32.6" lengthAdjust="spacingAndGlyphs">2021</text>
<text x="360.2" y="761.6" font-size="17.9" fill="#111111" stroke="#111111" stroke-width="0.35" textLength="5.2" lengthAdjust="spacingAndGlyphs">-</text>
<text x="370.6" y="761.6" font-size="17.9" fill="#111111" stroke="#111111" stroke-width="0.35" textLength="71.5" lengthAdjust="spacingAndGlyphs">Carrington,</text>
<text x="445.5" y="761.6" font-size="17.9" fill="#111111" stroke="#111111" stroke-width="0.35" textLength="25.0" lengthAdjust="spacingAndGlyphs">ND,</text>
<text x="473.0" y="761.6" font-size="17.9" fill="#111111" stroke="#111111" stroke-width="0.35" textLength="62.1" lengthAdjust="spacingAndGlyphs">Litchville,</text>
<text x="538.1" y="761.6" font-size="17.9" fill="#111111" stroke="#111111" stroke-width="0.35" textLength="24.6" lengthAdjust="spacingAndGlyphs">ND,</text>
<text x="565.6" y="761.6" font-size="17.9" fill="#111111" stroke="#111111" stroke-width="0.35" textLength="35.3" lengthAdjust="spacingAndGlyphs">Nash,</text>
<text x="603.8" y="761.6" font-size="17.9" fill="#111111" stroke="#111111" stroke-width="0.35" textLength="25.6" lengthAdjust="spacingAndGlyphs">ND,</text>
<text x="633.5" y="761.6" font-size="17.9" fill="#111111" stroke="#111111" stroke-width="0.35" textLength="73.2" lengthAdjust="spacingAndGlyphs">Chancellor,</text>
<text x="711.0" y="761.6" font-size="17.9" fill="#111111" stroke="#111111" stroke-width="0.35" textLength="23.2" lengthAdjust="spacingAndGlyphs">SD,</text>
<text x="737.2" y="761.6" font-size="17.9" fill="#111111" stroke="#111111" stroke-width="0.35" textLength="51.9" lengthAdjust="spacingAndGlyphs">Mitchell,</text>
<text x="795.6" y="761.6" font-size="17.9" fill="#111111" stroke="#111111" stroke-width="0.35" textLength="23.6" lengthAdjust="spacingAndGlyphs">SD,</text>
<text x="823.2" y="761.6" font-size="17.9" fill="#111111" stroke="#111111" stroke-width="0.35" textLength="73.2" lengthAdjust="spacingAndGlyphs">Watertown,</text>
<text x="900.1" y="761.6" font-size="17.9" fill="#111111" stroke="#111111" stroke-width="0.35" textLength="23.6" lengthAdjust="spacingAndGlyphs">SD.</text>
</g>
</svg></body></html>
